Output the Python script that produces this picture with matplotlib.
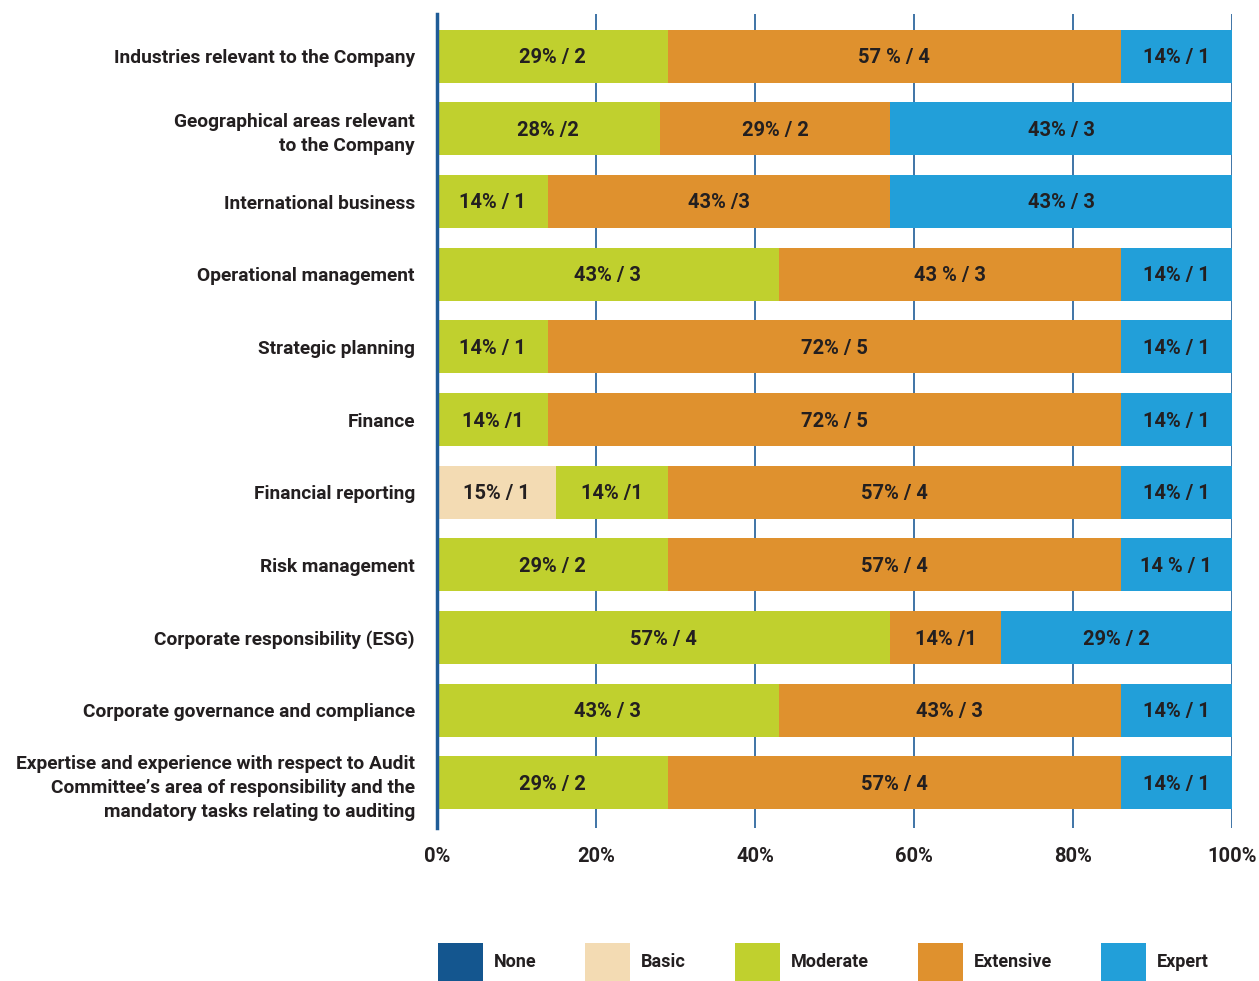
import matplotlib
matplotlib.use("Agg")
import matplotlib.pyplot as plt
from matplotlib.patches import Patch
from matplotlib.font_manager import FontProperties
import numpy as np

categories = [
    "Industries relevant to the Company",
    "Geographical areas relevant\nto the Company",
    "International business",
    "Operational management",
    "Strategic planning",
    "Finance",
    "Financial reporting",
    "Risk management",
    "Corporate responsibility (ESG)",
    "Corporate governance and compliance",
    "Expertise and experience with respect to Audit\nCommittee\u2019s area of responsibility and the\nmandatory tasks relating to auditing",
]
levels = ["None", "Basic", "Moderate", "Extensive", "Expert"]
none_vals = [0, 0, 0, 0, 0, 0, 0, 0, 0, 0, 0]
basic_vals = [0, 0, 0, 0, 0, 0, 15, 0, 0, 0, 0]
moderate_vals = [29, 28, 14, 43, 14, 14, 14, 29, 57, 43, 29]
extensive_vals = [57, 29, 43, 43, 72, 72, 57, 57, 14, 43, 57]
expert_vals = [14, 43, 43, 14, 14, 14, 14, 14, 29, 14, 14]

basic_labels = ["", "", "", "", "", "", "15% / 1", "", "", "", ""]
moderate_labels = ["29% / 2", "28% /2", "14% / 1", "43% / 3", "14% / 1", "14% /1",
                   "14% /1", "29% / 2", "57% / 4", "43% / 3", "29% / 2"]
extensive_labels = ["57 % / 4", "29% / 2", "43% /3", "43 % / 3", "72% / 5", "72% / 5",
                    "57% / 4", "57% / 4", "14% /1", "43% / 3", "57% / 4"]
expert_labels = ["14% / 1", "43% / 3", "43% / 3", "14% / 1", "14% / 1", "14% / 1",
                 "14% / 1", "14 % / 1", "29% / 2", "14% / 1", "14% / 1"]

colors = ["#14568f", "#f3dbb3", "#c0d02e", "#df912e", "#229fd9"]
text_color = "#231f20"
grid_color = "#1f5c97"


def fp(size):
    return FontProperties(family="Roboto", stretch="condensed", weight="bold", size=size)


fig = plt.figure(figsize=(12.59, 9.81), dpi=100)
ax = fig.add_axes([437 / 1259, 1 - 828 / 981, 795 / 1259, 814 / 981])

y = np.arange(len(categories))
series = [none_vals, basic_vals, moderate_vals, extensive_vals, expert_vals]
labels = [[""] * len(categories), basic_labels, moderate_labels, extensive_labels, expert_labels]
left = np.zeros(len(categories))
for vals, labs, col in zip(series, labels, colors):
    vals = np.array(vals, dtype=float)
    bars = ax.barh(y, vals, left=left, height=0.73, color=col, zorder=3, linewidth=0)
    for b, v, lab in zip(bars, vals, labs):
        if v > 0 and lab:
            ax.text(b.get_x() + b.get_width() / 2, b.get_y() + b.get_height() / 2 + 0.02, lab,
                    ha="center", va="center", color=text_color, zorder=4,
                    fontproperties=fp(14.5))
    left += vals

ax.set_xlim(0, 100)
ax.set_ylim(len(categories) - 1 + 0.62, -0.58)
ax.set_xticks([0, 20, 40, 60, 80, 100])
ax.set_xticklabels(["0%", "20%", "40%", "60%", "80%", "100%"])
ax.set_yticks(y)
ax.set_yticklabels(categories, ha="right")
for t in ax.get_yticklabels():
    t.set_fontproperties(fp(13.8))
    t.set_color(text_color)
    t.set_linespacing(1.43)
for t in ax.get_xticklabels():
    t.set_fontproperties(fp(14.5))
    t.set_color(text_color)
ax.tick_params(axis="y", length=0, pad=16)
ax.tick_params(axis="x", length=0, pad=14)
ax.xaxis.grid(True, color=grid_color, linewidth=1.2, zorder=0)
ax.set_axisbelow(True)
for s in ["top", "right", "bottom"]:
    ax.spines[s].set_visible(False)
ax.spines["left"].set_color(grid_color)
ax.spines["left"].set_linewidth(2.5)
ax.spines["left"].set_zorder(5)

handles = [Patch(facecolor=c, edgecolor="none", label=l) for c, l in zip(colors, levels)]
leg = fig.legend(handles=handles, loc="lower left", bbox_to_anchor=(438 / 1259, 0.0),
                 ncol=5, frameon=False, borderpad=0, borderaxespad=0,
                 handlelength=2.5, handleheight=2.85, handletextpad=0.6, columnspacing=2.7,
                 prop=fp(13))
for t in leg.get_texts():
    t.set_color(text_color)

fig.savefig("out.png", dpi=100)
